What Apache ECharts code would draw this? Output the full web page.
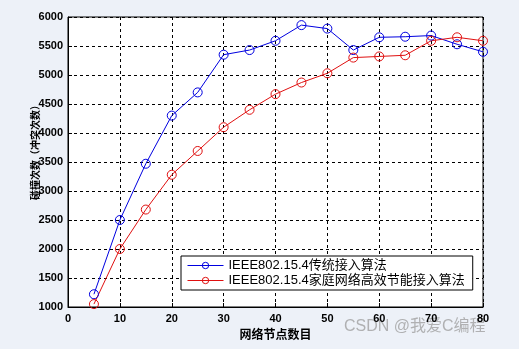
<!DOCTYPE html>
<html><head><meta charset="utf-8">
<script src="https://cdn.jsdelivr.net/npm/echarts@6/dist/echarts.min.js"></script>
<style>html,body{margin:0;padding:0;background:#edf1f8;}#c{width:519px;height:349px;}</style>
</head><body><div id="c"></div>
<script>
var nodes = [5,10,15,20,25,30,35,40,45,50,55,60,65,70,75,80];
var traditional = [1220,2500,3470,4300,4700,5350,5430,5590,5860,5800,5430,5650,5660,5680,5530,5400];
var efficient = [1050,2000,2680,3280,3690,4100,4400,4670,4870,5030,5300,5320,5340,5590,5650,5590];
var seriesNames = ['IEEE802.15.4传统接入算法','IEEE802.15.4家庭网络高效节能接入算法'];
var xName = '网络节点数目';
var yName = '碰撞次数（冲突次数）';
var watermark = 'CSDN @我爱C编程';

function pairs(xs, ys){ return xs.map(function(x,i){return [x, ys[i]];}); }
var chart = echarts.init(document.getElementById('c'));
var tickFont = {color:'#000', fontWeight:'bold', fontSize:11, fontFamily:'Liberation Sans, Arial', formatter:function(v){return String(v);}};
chart.setOption({
  backgroundColor:'#edf1f8',
  animation:false,
  grid:{left:68,right:36,top:17,bottom:42,show:true,backgroundColor:'#fff',borderColor:'#000',borderWidth:1},
  xAxis:{type:'value',min:0,max:80,interval:10,name:xName,nameLocation:'middle',nameGap:16,
    nameTextStyle:{color:'#000',fontWeight:'bold',fontSize:12,fontFamily:'Noto Sans CJK SC'},
    axisLine:{lineStyle:{color:'#000'}},axisTick:{inside:true,length:4,lineStyle:{color:'#000'}},
    axisLabel:Object.assign({margin:6},tickFont),
    splitLine:{show:true,lineStyle:{color:'#000',type:[3,3],width:1}}},
  yAxis:{type:'value',min:1000,max:6000,interval:500,
    axisLine:{lineStyle:{color:'#000'}},axisTick:{inside:true,length:4,lineStyle:{color:'#000'}},
    axisLabel:Object.assign({margin:5},tickFont),
    splitLine:{show:true,lineStyle:{color:'#000',type:[3,3],width:1}}},
  legend:{orient:'vertical',left:181,top:256,backgroundColor:'#fff',borderColor:'#000',borderWidth:1,borderRadius:0,
    padding:[3,8,3,6],itemGap:2,itemWidth:36,itemHeight:8,
    lineStyle:{width:1},itemStyle:{borderWidth:1},
    textStyle:{color:'#000',fontSize:13,fontFamily:'Liberation Sans, Noto Sans CJK SC'},
    data:seriesNames},
  series:[
    {name:seriesNames[0],type:'line',data:pairs(nodes,traditional),symbol:'circle',symbolSize:9,
      lineStyle:{color:'#0000e0',width:1},itemStyle:{color:'rgba(0,0,0,0)',borderColor:'#0000e0',borderWidth:1}},
    {name:seriesNames[1],type:'line',data:pairs(nodes,efficient),symbol:'circle',symbolSize:9,
      lineStyle:{color:'#e01010',width:1},itemStyle:{color:'rgba(0,0,0,0)',borderColor:'#e01010',borderWidth:1}}
  ],
  graphic:[
    {type:'text',x:35,y:150,rotation:Math.PI/2,style:{text:yName,fill:'#000',fontSize:10,fontWeight:'bold',fontFamily:'Noto Sans CJK SC',align:'center',verticalAlign:'middle'}},
    {type:'text',left:344,top:319,style:{text:watermark,fill:'rgba(160,160,160,0.8)',fontSize:16,fontFamily:'Liberation Sans, Noto Sans CJK SC'}}]
});
</script></body></html>
